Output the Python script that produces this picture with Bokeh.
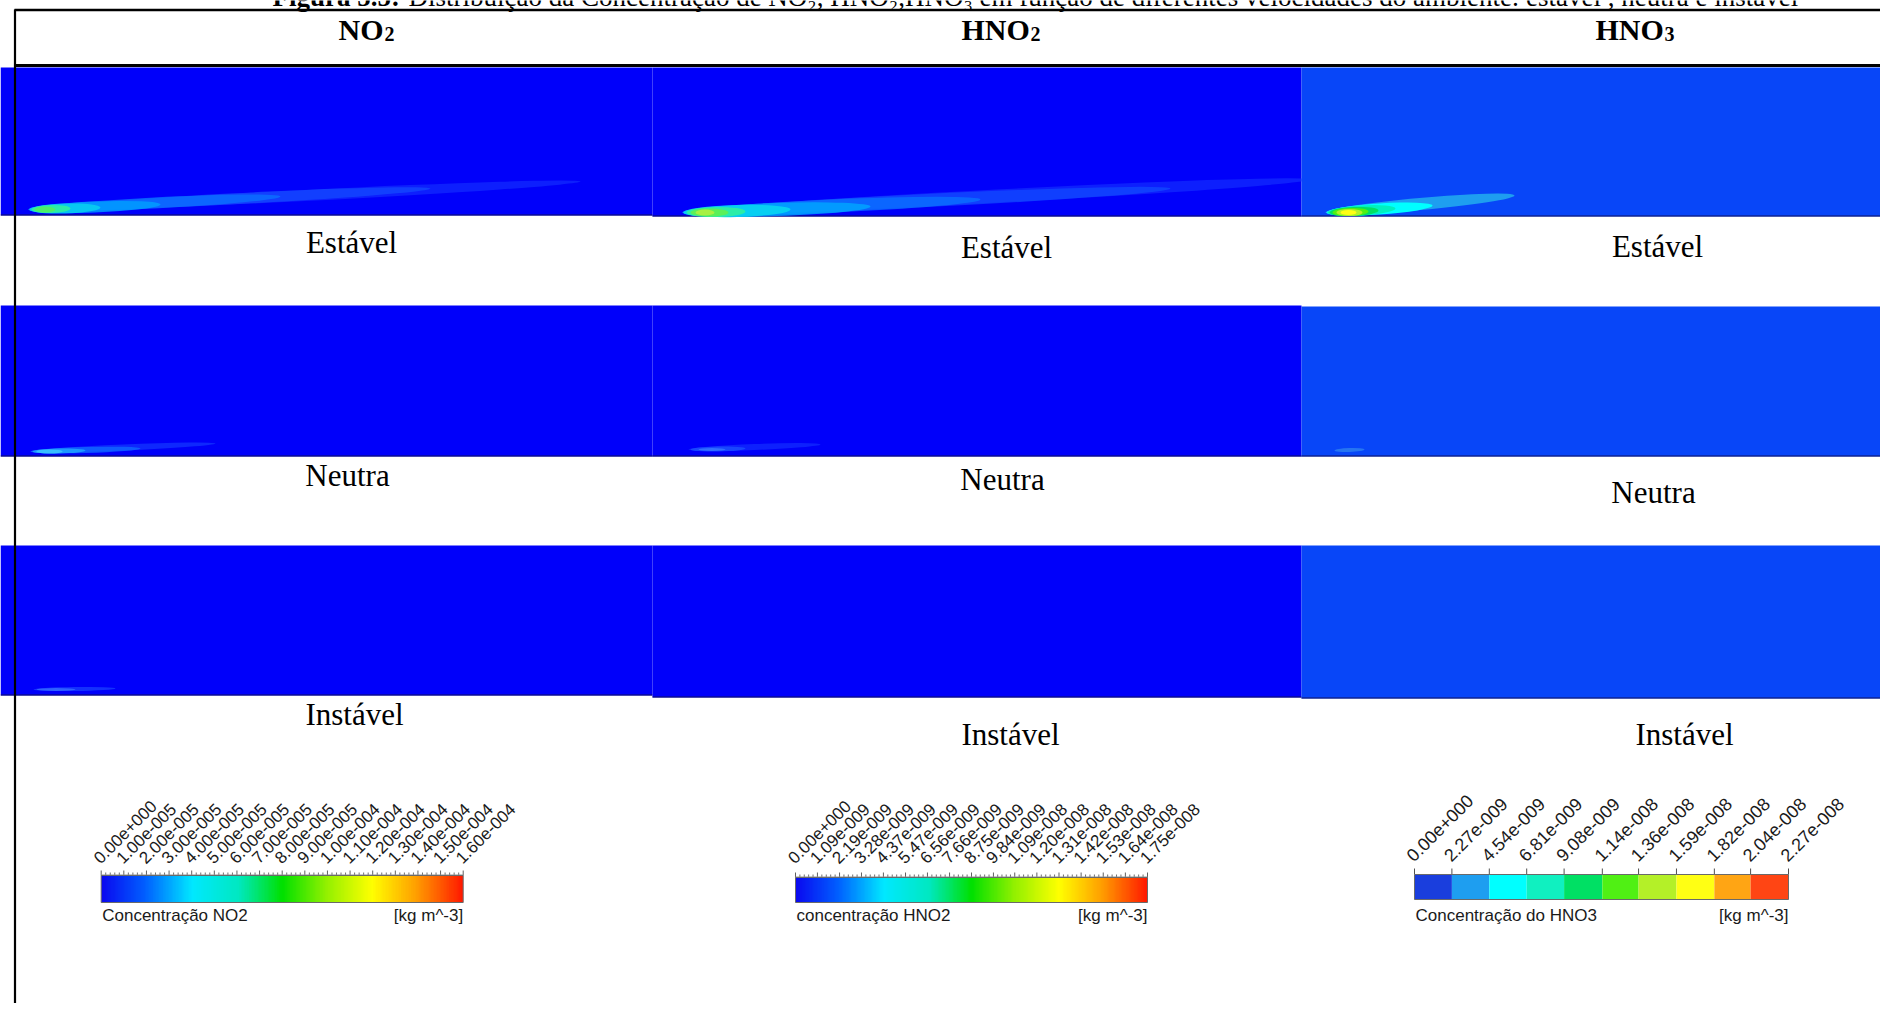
import numpy as np
from bokeh.plotting import figure
from bokeh.models import Range1d, LinearColorMapper
from bokeh.embed import file_html
from bokeh.resources import INLINE
from bokeh.core.properties import value

# ---------------- content / data ----------------
CAPTION_BOLD = "Figura 5.5:"
CAPTION_TEXT = ("Distribuição da Concentração de NO\u2082, HNO\u2082,HNO\u2083 em função de "
                "diferentes velocidades do ambiente: estável , neutra e instável")

SPECIES = ["NO", "HNO", "HNO"]
SPECIES_SUB = ["2", "2", "3"]
CONDITIONS = ["Estável", "Neutra", "Instável"]

NO2_TICKS = [0.0, 1.0e-5, 2.0e-5, 3.0e-5, 4.0e-5, 5.0e-5, 6.0e-5, 7.0e-5, 8.0e-5,
             9.0e-5, 1.0e-4, 1.1e-4, 1.2e-4, 1.3e-4, 1.4e-4, 1.5e-4, 1.6e-4]
NO2_LABELS = ["0.00e+000", "1.00e-005", "2.00e-005", "3.00e-005", "4.00e-005",
              "5.00e-005", "6.00e-005", "7.00e-005", "8.00e-005", "9.00e-005",
              "1.00e-004", "1.10e-004", "1.20e-004", "1.30e-004", "1.40e-004",
              "1.50e-004", "1.60e-004"]
HNO2_TICKS = [0.0, 1.09e-9, 2.19e-9, 3.28e-9, 4.37e-9, 5.47e-9, 6.56e-9, 7.66e-9,
              8.75e-9, 9.84e-9, 1.09e-8, 1.20e-8, 1.31e-8, 1.42e-8, 1.53e-8,
              1.64e-8, 1.75e-8]
HNO2_LABELS = ["0.00e+000", "1.09e-009", "2.19e-009", "3.28e-009", "4.37e-009",
               "5.47e-009", "6.56e-009", "7.66e-009", "8.75e-009", "9.84e-009",
               "1.09e-008", "1.20e-008", "1.31e-008", "1.42e-008", "1.53e-008",
               "1.64e-008", "1.75e-008"]
HNO3_TICKS = [0.0, 2.27e-9, 4.54e-9, 6.81e-9, 9.08e-9, 1.14e-8, 1.36e-8, 1.59e-8,
              1.82e-8, 2.04e-8, 2.27e-8]
HNO3_LABELS = ["0.00e+000", "2.27e-009", "4.54e-009", "6.81e-009", "9.08e-009",
               "1.14e-008", "1.36e-008", "1.59e-008", "1.82e-008", "2.04e-008",
               "2.27e-008"]
CB_TITLES = ["Concentração NO2", "concentração HNO2", "Concentração do HNO3"]
CB_UNIT = "[kg m^-3]"

# plume contour layers (panel row, panel col, start x, start y, end x, end y,
# thickness, colour, opacity)
PL_ROW = [0, 0, 0, 0, 0, 0, 0,
          0, 0, 0, 0, 0, 0, 0, 0,
          0, 0, 0, 0, 0, 0, 0,
          1, 1, 1, 1,
          1, 1, 1,
          1,
          2, 2]
PL_COL = [0, 0, 0, 0, 0, 0, 0,
          1, 1, 1, 1, 1, 1, 1, 1,
          2, 2, 2, 2, 2, 2, 2,
          0, 0, 0, 0,
          1, 1, 1,
          2,
          0, 0]
PL_X0 = [28, 28, 28, 28, 29, 31, 34,
         682, 682, 682, 682, 683, 686, 690, 695,
         1325, 1326, 1327, 1329, 1332, 1336, 1340,
         30, 30, 32, 36,
         688, 690, 698,
         1334,
         33, 36]
PL_Y0 = [209, 209, 209, 209, 209, 209, 209,
         212, 212, 212, 212, 212, 212, 212, 212,
         212, 212, 212, 212, 212, 212, 212,
         451, 451, 451, 451,
         449, 449, 449,
         450,
         689, 689]
PL_X1 = [580, 430, 280, 160, 100, 70, 55,
         1310, 1170, 980, 870, 790, 745, 728, 714,
         1514, 1432, 1395, 1378, 1368, 1362, 1356,
         215, 140, 85, 62,
         820, 745, 725,
         1364,
         115, 75]
PL_Y1 = [181, 188, 196, 204, 207, 208, 209,
         179, 188, 199, 206, 209, 211, 212, 212,
         195, 205, 208, 210, 211, 212, 212,
         443, 448, 450, 451,
         444, 448, 449,
         449,
         688, 689]
PL_T = [11, 11, 11, 11, 10, 8, 6,
        13, 13, 13, 13, 12, 10, 8, 6,
        12, 11, 10, 9, 8, 7, 5,
        6, 6, 5, 4,
        6, 5, 3,
        4,
        4, 3]
PL_C = ["#1838ff", "#1652ff", "#0a78ff", "#00a0ff", "#08d0f0", "#30f0a0", "#50f060",
        "#1838ff", "#1252ff", "#0a78ff", "#00a8ff", "#08d8f0", "#30f0a0", "#60f050", "#b0f040",
        "#1e9ef0", "#00ffff", "#00f0c0", "#00e064", "#50f014", "#b4f028", "#ffff14",
        "#1a48ff", "#1070ff", "#20a8ff", "#40c8ff",
        "#1a40ff", "#2060ff", "#3c80ff",
        "#2a7af0",
        "#2050ff", "#3c78ff"]
PL_A = [0.55, 0.65, 0.7, 0.8, 0.85, 0.9, 0.9,
        0.55, 0.65, 0.7, 0.8, 0.85, 0.9, 0.9, 0.9,
        1, 1, 1, 1, 1, 1, 1,
        0.55, 0.7, 0.8, 0.8,
        0.5, 0.6, 0.7,
        0.9,
        0.6, 0.7]

# ---------------- layout (picture pixels) ----------------
W, H = 1880, 1003
BASE_SHIFT = 0.34   # rendered baseline sits this many font-sizes below the anchor


def Y(py):
    return H - py


def YB(base_py, fsize):
    """anchor y that puts the rendered text baseline at picture row base_py"""
    return Y(base_py - BASE_SHIFT * fsize)


COL_LEFT = [0, 652, 1301]
COL_RIGHT = [652, 1301, W]
ROW_TOP = [[67, 67, 67], [305, 305, 306], [545, 545, 545]]
ROW_BOT = [[215, 216, 216], [456, 456, 456], [695, 697, 698]]
COL_BG = ["#0000fa", "#0000fa", "#0846f8"]

HEAD_LEFT = [338, 961, 1595]
HEAD_BASE = 39
LBL_X = [[351, 1006, 1657], [347, 1002, 1653], [354, 1010, 1684]]
LBL_BASE = [[253, 258, 257], [486, 490, 503], [725, 745, 745]]

CB_X0 = [100.7, 795.0, 1414.0]
CB_X1 = [462.7, 1147.0, 1788.0]
CB_TOP = [875, 877, 874]
CB_BOT = [902, 902, 899]
HNO3_BANDS = ["#1a3edd", "#1e9ef0", "#00ffff", "#10f0c0", "#00e064",
              "#50f014", "#b4f028", "#ffff14", "#ffa514", "#ff4514"]
RAINBOW_STOPS = [(0.0, "#0a0af0"), (0.12, "#0060ff"), (0.25, "#00e8ff"),
                 (0.38, "#00e8c0"), (0.5, "#00e000"), (0.62, "#90f000"),
                 (0.75, "#ffff00"), (0.87, "#ffa000"), (1.0, "#ff1a00")]


def hex2rgb(h):
    return np.array([int(h[i:i + 2], 16) for i in (1, 3, 5)], dtype=float)


def make_palette(stops, n=256):
    pos = np.array([s[0] for s in stops])
    cols = np.array([hex2rgb(s[1]) for s in stops])
    t = np.linspace(0, 1, n)
    out = []
    for v in t:
        r, g, b = (np.interp(v, pos, cols[:, k]) for k in range(3))
        out.append("#%02x%02x%02x" % (int(round(r)), int(round(g)), int(round(b))))
    return out


RAINBOW = make_palette(RAINBOW_STOPS)

p = figure(width=W, height=H, x_range=Range1d(0, W), y_range=Range1d(0, H),
           output_backend="svg", toolbar_location=None, min_border=0,
           x_axis_location=None, y_axis_location=None)
p.xgrid.visible = False
p.ygrid.visible = False
p.outline_line_color = None
p.background_fill_color = "white"
p.border_fill_color = "white"

SERIF = value("Liberation Serif")
SANS = value("Liberation Sans")

# caption (cut off at the top of the page, as in the source picture)
CAP_F = 27
p.text(x=[272], y=[YB(6, CAP_F)], text=[CAPTION_BOLD], text_font=SERIF,
       text_font_size=f"{CAP_F}px", text_font_style="bold", text_align="left",
       text_baseline="alphabetic", text_color="black")
p.text(x=[408], y=[YB(6, CAP_F)], text=[CAPTION_TEXT], text_font=SERIF,
       text_font_size=f"{CAP_F}px", text_align="left", text_baseline="alphabetic",
       text_color="black")

# panels and plumes
for r in range(3):
    for c in range(3):
        p.quad(left=[COL_LEFT[c]], right=[COL_RIGHT[c]], top=[Y(ROW_TOP[r][c])],
               bottom=[Y(ROW_BOT[r][c])], fill_color=COL_BG[c], line_color=None)
        p.segment(x0=[COL_LEFT[c]], x1=[COL_RIGHT[c]], y0=[Y(ROW_BOT[r][c]) + 0.5],
                  y1=[Y(ROW_BOT[r][c]) + 0.5], line_color="#101060", line_width=1.2)
        idx = [i for i in range(len(PL_ROW)) if PL_ROW[i] == r and PL_COL[i] == c]
        if idx:
            xs0 = np.array([PL_X0[i] for i in idx], float)
            ys0 = np.array([Y(PL_Y0[i]) for i in idx], float)
            xs1 = np.array([PL_X1[i] for i in idx], float)
            ys1 = np.array([Y(PL_Y1[i]) for i in idx], float)
            p.ellipse(x=(xs0 + xs1) / 2, y=(ys0 + ys1) / 2,
                      width=np.hypot(xs1 - xs0, ys1 - ys0),
                      height=[PL_T[i] for i in idx],
                      angle=np.arctan2(ys1 - ys0, xs1 - xs0),
                      fill_color=[PL_C[i] for i in idx],
                      fill_alpha=[PL_A[i] for i in idx], line_color=None)

# table rules
p.segment(x0=[14.5], x1=[14.5], y0=[Y(9)], y1=[0], line_color="black", line_width=2.2)
p.segment(x0=[14], x1=[W], y0=[Y(9.5)], y1=[Y(9.5)], line_color="black", line_width=2.5)
p.segment(x0=[14], x1=[W], y0=[Y(65)], y1=[Y(65)], line_color="black", line_width=3)

# headers
HEAD_F, SUB_F = 30, 20
head_w = [45, 68, 68]
p.text(x=HEAD_LEFT, y=[YB(HEAD_BASE, HEAD_F)] * 3, text=SPECIES, text_font=SERIF,
       text_font_size=f"{HEAD_F}px", text_font_style="bold", text_align="left",
       text_baseline="alphabetic", text_color="black")
p.text(x=[HEAD_LEFT[i] + head_w[i] + 1 for i in range(3)], y=[YB(HEAD_BASE + 1, SUB_F)] * 3,
       text=SPECIES_SUB, text_font=SERIF, text_font_size=f"{SUB_F}px", text_font_style="bold",
       text_align="left", text_baseline="alphabetic", text_color="black")

# condition labels
LBL_F = 31
for r in range(3):
    p.text(x=LBL_X[r], y=[YB(v, LBL_F) for v in LBL_BASE[r]], text=[CONDITIONS[r]] * 3,
           text_font=SERIF, text_font_size=f"{LBL_F}px", text_align="center",
           text_baseline="alphabetic", text_color="black")

# colour bars
cb_ticks = [NO2_TICKS, HNO2_TICKS, HNO3_TICKS]
cb_labels = [NO2_LABELS, HNO2_LABELS, HNO3_LABELS]
TITLE_F = 17
for k in range(3):
    ticks = np.array(cb_ticks[k])
    lo, hi = ticks[0], ticks[-1]
    x0, x1 = CB_X0[k], CB_X1[k]
    yt, yb = Y(CB_TOP[k]), Y(CB_BOT[k])
    tx = x0 + (ticks - lo) / (hi - lo) * (x1 - x0)
    if k < 2:
        mapper = LinearColorMapper(palette=RAINBOW, low=lo, high=hi)
        grad = np.linspace(lo, hi, 400).reshape(1, -1)
        p.image(image=[grad], x=x0, y=yb, dw=x1 - x0, dh=yt - yb, color_mapper=mapper)
        mx = []
        for j in range(len(tx) - 1):
            for s in range(1, 5):
                mx.append(tx[j] + (tx[j + 1] - tx[j]) * s / 5)
        p.segment(x0=mx, x1=mx, y0=[yt] * len(mx), y1=[yt + 3] * len(mx),
                  line_color="#707070", line_width=1)
        p.segment(x0=list(tx), x1=list(tx), y0=[yt] * len(tx), y1=[yt + 5] * len(tx),
                  line_color="#606060", line_width=1)
        p.segment(x0=[x0], x1=[x1], y0=[yt + 0.5], y1=[yt + 0.5], line_color="#909090",
                  line_width=1)
        lf = 17
        base_y = 864
    else:
        p.quad(left=list(tx[:-1]), right=list(tx[1:]), top=[yt] * 10, bottom=[yb] * 10,
               fill_color=HNO3_BANDS, line_color=None)
        p.segment(x0=list(tx), x1=list(tx), y0=[yt] * len(tx), y1=[yt + 6] * len(tx),
                  line_color="#505050", line_width=1)
        lf = 18
        base_y = 862
    p.quad(left=[x0], right=[x1], top=[yt], bottom=[yb], fill_color=None,
           line_color="#6a6a6a", line_width=1)
    off = BASE_SHIFT * lf * np.sqrt(0.5)
    p.text(x=list(tx - 0.7 - off), y=[Y(base_y - off)] * len(tx), text=cb_labels[k],
           angle=np.pi / 4, text_font=SANS, text_font_size=f"{lf}px", text_align="left",
           text_baseline="alphabetic", text_color="#1a1a1a")
    p.text(x=[x0 + 1], y=[YB(921, TITLE_F)], text=[CB_TITLES[k]], text_font=SANS,
           text_font_size=f"{TITLE_F}px", text_align="left", text_baseline="alphabetic",
           text_color="#1a1a1a")
    p.text(x=[x1], y=[YB(921, TITLE_F)], text=[CB_UNIT], text_font=SANS,
           text_font_size=f"{TITLE_F}px", text_align="right", text_baseline="alphabetic",
           text_color="#1a1a1a")

open("out.html", "w").write(file_html(p, INLINE))
